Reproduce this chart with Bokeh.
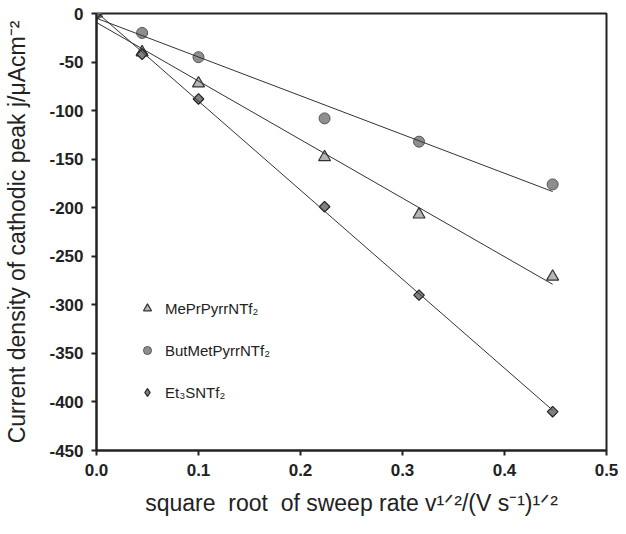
import numpy as np
from bokeh.plotting import figure
from bokeh.models import Legend, LegendItem, FixedTicker, Range1d
from bokeh.embed import file_html
from bokeh.resources import INLINE

# ---------------- data ----------------
x_values = [0.0, 0.0447, 0.1, 0.2236, 0.3162, 0.4472]
meprpyrr = [0, -40, -72, -148, -207, -271]
butmet = [0, -20, -45, -108, -132, -176]
et3s = [0, -42, -88, -199, -290, -410]
series_names = ["MePrPyrrNTf₂", "ButMetPyrrNTf₂", "Et₃SNTf₂"]

x_ticks = [0.0, 0.1, 0.2, 0.3, 0.4, 0.5]
x_tick_labels = ["0.0", "0.1", "0.2", "0.3", "0.4", "0.5"]
y_ticks = [0, -50, -100, -150, -200, -250, -300, -350, -400, -450]
y_tick_labels = ["0", "-50", "-100", "-150", "-200", "-250", "-300", "-350", "-400", "-450"]

x_title = "square\u00a0 root\u00a0 of sweep rate v¹ᐟ²/(V s⁻¹)¹ᐟ²"
y_title = "Current density of cathodic peak j/μAcm⁻²"

# ---------------- figure ----------------
W, H = 618, 518
p = figure(width=W, height=H, x_range=Range1d(0, 0.5), y_range=Range1d(-450, 0),
           output_backend="svg", toolbar_location=None,
           min_border_left=96, min_border_right=12,
           min_border_top=13, min_border_bottom=59)
p.xgrid.visible = False
p.ygrid.visible = False
p.background_fill_color = "white"
p.border_fill_color = "white"
p.outline_line_color = "#222222"
p.outline_line_width = 2
p.outline_line_alpha = 1

p.xaxis.ticker = FixedTicker(ticks=x_ticks)
p.yaxis.ticker = FixedTicker(ticks=y_ticks)
p.xaxis.major_label_overrides = {t: l for t, l in zip(x_ticks, x_tick_labels)}
p.yaxis.major_label_overrides = {t: l for t, l in zip(y_ticks, y_tick_labels)}
p.xaxis.axis_label = x_title
p.yaxis.axis_label = y_title
for ax in (p.xaxis[0], p.yaxis[0]):
    ax.axis_line_color = "#222222"
    ax.axis_line_width = 2
    ax.major_tick_line_color = "#222222"
    ax.major_tick_line_width = 2
    ax.major_tick_out = 5
    ax.major_tick_in = 0
    ax.minor_tick_line_color = None
    ax.major_label_text_font = "Liberation Sans"
    ax.major_label_text_font_style = "bold"
    ax.major_label_text_font_size = "17px"
    ax.major_label_text_color = "#222222"
    ax.major_label_standoff = 8
    ax.axis_label_text_font = "Liberation Sans"
    ax.axis_label_text_font_style = "normal"
    ax.axis_label_text_font_size = "23px"
    ax.axis_label_text_color = "#222222"
p.xaxis.axis_label_standoff = 11
p.yaxis.axis_label_standoff = 16

# ---------------- marks ----------------
r_tri = p.scatter(x_values, meprpyrr, marker="triangle", size=12,
                  fill_color="#b5b5b5", line_color="#333333", line_width=1.2)
r_cir = p.scatter(x_values, butmet, marker="circle", size=11,
                  fill_color="#8e8e8e", line_color="#555555", line_width=1)
r_dia = p.scatter(x_values, et3s, marker="square", size=7.5, angle=np.pi / 4,
                  fill_color="#808080", line_color="#222222", line_width=1.2)
# legend swatch for the diamonds (not drawn in the plot area)
r_dia_key = p.scatter(x_values, et3s, marker="diamond", size=10,
                      fill_color="#808080", line_color="#222222", line_width=1.2,
                      visible=False)

xs = np.array([min(x_values), max(x_values)])
for ys in (meprpyrr, butmet, et3s):
    fit = np.polyfit(x_values, ys, 1)
    p.line(xs, np.polyval(fit, xs), line_color="#333333", line_width=1)

legend = Legend(items=[LegendItem(label=series_names[0], renderers=[r_tri]),
                       LegendItem(label=series_names[1], renderers=[r_cir]),
                       LegendItem(label=series_names[2], renderers=[r_dia_key])],
                location=(41, 48), glyph_width=20, glyph_height=20, label_height=20,
                label_standoff=8, spacing=22, padding=0, margin=0,
                border_line_color=None, background_fill_alpha=0,
                label_text_font="Liberation Sans", label_text_font_size="15px",
                label_text_color="#222222", click_policy="none")
p.add_layout(legend)

open("out.html", "w").write(file_html(p, INLINE))
